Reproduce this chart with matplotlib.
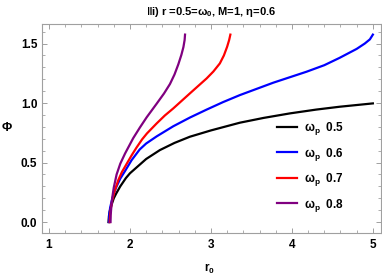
import matplotlib
matplotlib.use("Agg")
import matplotlib.pyplot as plt
from matplotlib.ticker import MultipleLocator, FormatStrFormatter

plt.rcParams['font.family'] = ['Liberation Sans', 'DejaVu Sans']
plt.rcParams['font.weight'] = 'bold'
plt.rcParams['mathtext.fontset'] = 'custom'
plt.rcParams['mathtext.rm'] = 'Liberation Sans:bold'
plt.rcParams['mathtext.it'] = 'Liberation Sans:bold'
plt.rcParams['mathtext.bf'] = 'Liberation Sans:bold'
plt.rcParams['mathtext.sf'] = 'Liberation Sans'

# values
wp_values = ["0.5", "0.6", "0.7", "0.8"]
colors = ["black", "blue", "red", "purple"]

r_05 = [1.735, 1.74, 1.75, 1.77, 1.80, 1.83, 1.88, 1.95, 2.0, 2.1, 2.2, 2.37, 2.55,
        2.74, 3.0, 3.358, 3.65, 3.975, 4.3, 4.59, 5.0]
phi_05 = [0.0, 0.05, 0.09, 0.14, 0.2, 0.24, 0.30, 0.37, 0.41, 0.47, 0.53, 0.605, 0.665,
          0.717, 0.77, 0.835, 0.875, 0.913, 0.945, 0.969, 0.997]

r_06 = [1.74, 1.745, 1.755, 1.775, 1.80, 1.835, 1.88, 1.94, 2.02, 2.12, 2.2, 2.33,
        2.535, 2.74, 2.947, 3.15, 3.358, 3.77, 4.18, 4.4, 4.59, 4.80, 4.90, 4.963, 5.0]
phi_06 = [0.0, 0.07, 0.12, 0.18, 0.24, 0.30, 0.365, 0.43, 0.52, 0.61, 0.66, 0.72,
          0.805, 0.878, 0.945, 1.008, 1.067, 1.171, 1.263, 1.318, 1.38, 1.455, 1.50,
          1.535, 1.575]

r_07 = [1.75, 1.755, 1.765, 1.78, 1.81, 1.856, 1.90, 1.96, 2.02, 2.08, 2.15, 2.21,
        2.33, 2.43, 2.535, 2.74, 2.947, 3.03, 3.11, 3.16, 3.2, 3.225, 3.24]
phi_07 = [0.0, 0.06, 0.12, 0.18, 0.26, 0.353, 0.42, 0.49, 0.56, 0.625, 0.695, 0.745,
          0.829, 0.895, 0.955, 1.081, 1.207, 1.265, 1.333, 1.40, 1.473, 1.53, 1.575]

r_08 = [1.76, 1.762, 1.77, 1.78, 1.80, 1.835, 1.88, 1.94, 2.04, 2.123, 2.206, 2.33,
        2.42, 2.494, 2.55, 2.597, 2.635, 2.66, 2.675, 2.68]
phi_08 = [0.0, 0.06, 0.13, 0.2, 0.29, 0.40, 0.49, 0.577, 0.705, 0.795, 0.88, 0.995,
          1.08, 1.16, 1.24, 1.325, 1.405, 1.47, 1.53, 1.575]

series = [(r_05, phi_05), (r_06, phi_06), (r_07, phi_07), (r_08, phi_08)]

fig = plt.figure(figsize=(3.82, 2.77), dpi=100)
ax = fig.add_axes([0.1107, 0.1588, 0.8866, 0.7545])

for (r, phi), c, w in zip(series, colors, wp_values):
    ax.plot(r, phi, color=c, lw=1.6, label=r'ω$_{p}$  ' + w, solid_joinstyle='round')

ax.set_xlim(0.917, 5.1)
ax.set_ylim(-0.092, 1.664)

ax.xaxis.set_major_locator(MultipleLocator(1))
ax.xaxis.set_minor_locator(MultipleLocator(0.2))
ax.yaxis.set_major_locator(MultipleLocator(0.5))
ax.yaxis.set_minor_locator(MultipleLocator(0.1))
ax.yaxis.set_major_formatter(FormatStrFormatter('%.1f'))

frame_gray = '#a0a0a0'
for s in ax.spines.values():
    s.set_color(frame_gray)
    s.set_linewidth(0.8)
ax.tick_params(which='both', direction='in', top=True, right=True, color=frame_gray,
               labelsize=8.5, labelcolor='black')
ax.tick_params(which='major', length=3.5, width=0.7)
ax.tick_params(which='minor', length=2, width=0.6)
ax.tick_params(axis='x', pad=4)
ax.tick_params(axis='y', pad=3.5)
for lab in ax.get_xticklabels() + ax.get_yticklabels():
    lab.set_fontweight('bold')

ax.legend(loc='upper left', bbox_to_anchor=(0.693, 0.54), frameon=False, fontsize=8.5,
          handlelength=1.7, handletextpad=0.55, labelspacing=0.72, borderpad=0,
          borderaxespad=0)

fig.text(211 / 382, 1 - 12 / 277, r'‖i) r =0.5=ω$_0$, M=1, η=0.6', ha='center',
         va='center', fontsize=8, fontweight='bold')
fig.text(7 / 382, 1 - 128 / 277, 'Φ', ha='center', va='center', fontsize=9,
         fontweight='bold')
fig.text(210 / 382, 1 - 268.7 / 277, r'$\mathsf{r_0}$', ha='center', va='center',
         fontsize=8.5)

fig.savefig('out.png', dpi=100)
